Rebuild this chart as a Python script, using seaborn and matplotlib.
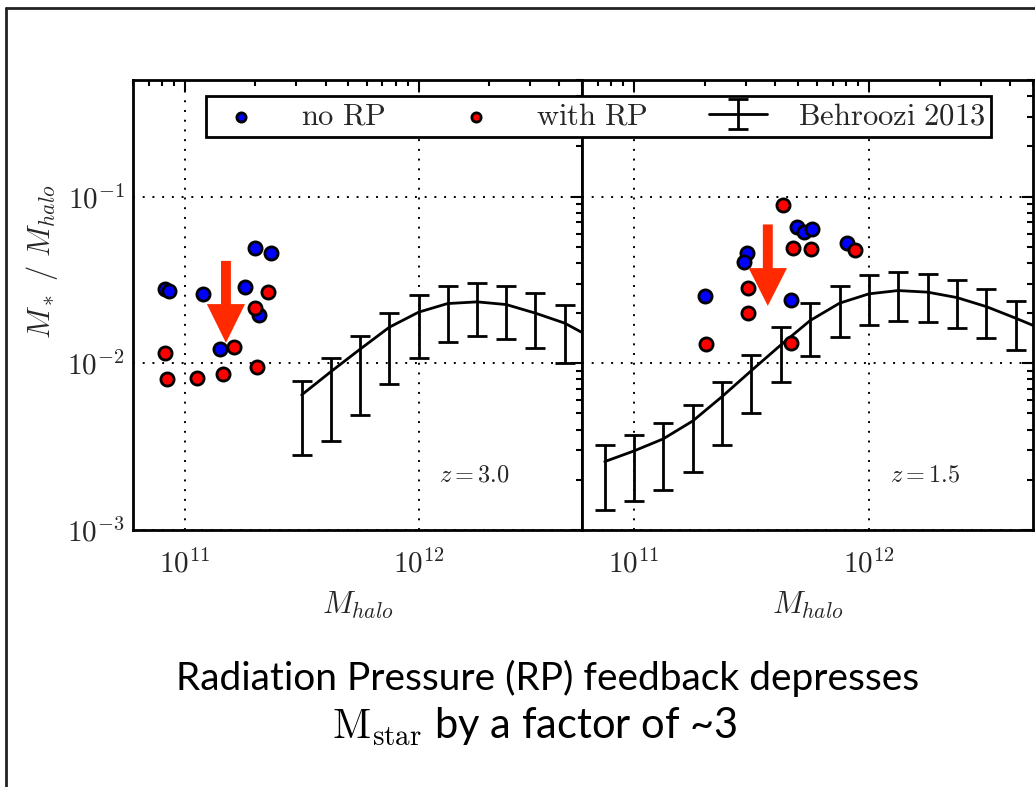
import matplotlib
matplotlib.use("Agg")
import matplotlib.pyplot as plt
import seaborn as sns
import numpy as np
import pandas as pd
from matplotlib.lines import Line2D
from matplotlib.patches import FancyArrow
from matplotlib.ticker import FuncFormatter, LogLocator, NullFormatter

# ---------------- data ----------------
# z = 3.0 panel
z3_norp_mhalo = [8.22e10, 8.55e10, 1.19e11, 1.81e11, 1.99e11, 2.33e11, 2.07e11, 1.41e11]
z3_norp_ratio = [0.0278, 0.0272, 0.0260, 0.0288, 0.0488, 0.0458, 0.0194, 0.01225]
z3_rp_mhalo = [8.2e10, 8.41e10, 1.13e11, 1.456e11, 1.627e11, 2.005e11, 2.26e11, 2.045e11]
z3_rp_ratio = [0.0116, 0.00806, 0.00814, 0.00864, 0.01254, 0.0214, 0.0266, 0.00951]

z3_beh_mhalo = [3.16e11, 4.22e11, 5.62e11, 7.50e11, 1.00e12, 1.33e12, 1.78e12,
                2.37e12, 3.16e12, 4.22e12, 5.62e12]
z3_beh_ratio = [0.00646, 0.00892, 0.01215, 0.01646, 0.02025, 0.02281, 0.02335,
                0.02250, 0.01998, 0.01740, 0.01400]
z3_beh_lo = [0.00282, 0.00344, 0.00492, 0.00749, 0.01073, 0.01349, 0.01460,
             0.01401, 0.01232, 0.01010, 0.00800]
z3_beh_hi = [0.00787, 0.01073, 0.01466, 0.01998, 0.02572, 0.02924, 0.03035,
             0.02924, 0.02633, 0.02250, 0.01850]

# z = 1.5 panel
z15_norp_mhalo = [2.01e11, 3.04e11, 2.93e11, 4.96e11, 5.27e11, 5.70e11, 8.07e11, 4.68e11]
z15_norp_ratio = [0.0254, 0.0461, 0.0407, 0.0655, 0.0612, 0.0643, 0.0525, 0.0238]
z15_rp_mhalo = [4.32e11, 4.77e11, 5.66e11, 8.71e11, 3.06e11, 3.06e11, 2.03e11, 4.66e11]
z15_rp_ratio = [0.0892, 0.0492, 0.0483, 0.0479, 0.0281, 0.0201, 0.0130, 0.0132]

z15_beh_mhalo = [7.50e10, 1.00e11, 1.33e11, 1.78e11, 2.37e11, 3.16e11, 4.22e11, 5.62e11,
                 7.50e11, 1.00e12, 1.33e12, 1.78e12, 2.37e12, 3.16e12, 4.22e12, 5.62e12]
z15_beh_ratio = [0.002572, 0.002981, 0.003519, 0.004513, 0.006313, 0.009042, 0.01289,
                 0.01804, 0.02293, 0.02608, 0.02730, 0.02670, 0.02478, 0.02188,
                 0.01864, 0.01576]
z15_beh_lo = [0.001320, 0.001495, 0.001739, 0.002240, 0.003253, 0.005019, 0.007702,
              0.01112, 0.01446, 0.01692, 0.01804, 0.01772, 0.01624, 0.01414,
              0.01203, 0.01000]
z15_beh_hi = [0.003239, 0.003720, 0.004390, 0.005605, 0.007702, 0.01123, 0.01646,
              0.02293, 0.02924, 0.03391, 0.03535, 0.03439, 0.03150, 0.02794,
              0.02377, 0.02000]

panel_labels = [r"$z=3.0$", r"$z=1.5$"]
legend_labels = [r"$\mathrm{no\ RP}$", r"$\mathrm{with\ RP}$", r"$\mathrm{Behroozi\ 2013}$"]
caption_line1 = "Radiation Pressure (RP) feedback depresses"
caption_line2 = r"$\mathrm{M_{star}}$ by a factor of ~3"

# ---------------- style ----------------
sns.set_theme(style="white")
plt.rcParams["font.family"] = ["DejaVu Sans"]
plt.rcParams["mathtext.fontset"] = "cm"

W, H = 1035, 787
fig = plt.figure(figsize=(W / 100, H / 100), dpi=100)
fig.patch.set_facecolor("white")

def fx(px):
    return px / W

def fy(py):
    return 1 - py / H

ax_l = fig.add_axes([fx(133), fy(530), fx(582) - fx(133), fy(80) - fy(530)])
ax_r = fig.add_axes([fx(582), fy(530), fx(1033) - fx(582), fy(80) - fy(530)], sharey=ax_l)

tick_fmt = FuncFormatter(lambda v, p: r"$10^{%d}$" % int(round(np.log10(v))))

panels = [
    (ax_l, z3_norp_mhalo, z3_norp_ratio, z3_rp_mhalo, z3_rp_ratio,
     z3_beh_mhalo, z3_beh_ratio, z3_beh_lo, z3_beh_hi, panel_labels[0]),
    (ax_r, z15_norp_mhalo, z15_norp_ratio, z15_rp_mhalo, z15_rp_ratio,
     z15_beh_mhalo, z15_beh_ratio, z15_beh_lo, z15_beh_hi, panel_labels[1]),
]

handles = None
for (ax, nx, ny, rx, ry, bx, by, blo, bhi, zlab) in panels:
    ax.set_xscale("log")
    ax.set_yscale("log")
    ax.set_xlim(6e10, 5e12)
    ax.set_ylim(1e-3, 0.5)

    by_a = np.array(by)
    yerr = [by_a - np.array(blo), np.array(bhi) - by_a]
    eb = ax.errorbar(bx, by, yerr=yerr, color="black", lw=2, elinewidth=2,
                     capsize=7, capthick=2, zorder=2)

    sns.scatterplot(x=nx, y=ny, ax=ax, color="#0000ff", edgecolor="black",
                    linewidth=2, s=90, zorder=3, legend=False)
    h_blue = ax.collections[-1]
    sns.scatterplot(x=rx, y=ry, ax=ax, color="#ff0000", edgecolor="black",
                    linewidth=2, s=90, zorder=4, legend=False)
    h_red = ax.collections[-1]
    if handles is None:
        handles = [h_blue, h_red, eb]

    ax.grid(True, which="major", linestyle=(0, (1, 4)), color="black", lw=1.4)
    ax.xaxis.set_major_locator(LogLocator(base=10, numticks=10))
    ax.xaxis.set_minor_locator(LogLocator(base=10, subs=np.arange(2, 10), numticks=20))
    ax.yaxis.set_major_locator(LogLocator(base=10, numticks=10))
    ax.yaxis.set_minor_locator(LogLocator(base=10, subs=np.arange(2, 10), numticks=20))
    ax.xaxis.set_major_formatter(tick_fmt)
    ax.xaxis.set_minor_formatter(NullFormatter())
    ax.yaxis.set_minor_formatter(NullFormatter())
    ax.tick_params(which="both", direction="in", top=True, right=True,
                   color="black", width=1.5, labelsize=21)
    ax.tick_params(axis="x", which="major", pad=14)
    ax.tick_params(axis="y", which="major", pad=6)
    ax.tick_params(which="major", length=8)
    ax.tick_params(which="minor", length=4.5)
    for sp in ax.spines.values():
        sp.set_color("black")
        sp.set_linewidth(2)
    ax.set_xlabel(r"$M_{halo}$", fontsize=22, labelpad=8)
    ax.set_ylabel("")
    ax.text(0.682, 0.124, zlab, transform=ax.transAxes, fontsize=17.5,
            ha="left", va="center")

ax_l.yaxis.set_major_formatter(tick_fmt)
ax_l.set_ylabel(r"$M_*\ /\ M_{halo}$", fontsize=22)
ax_l.yaxis.set_label_coords(-0.163, 0.596)
plt.setp(ax_r.get_yticklabels(), visible=False)

# red arrows
ax_l.add_patch(FancyArrow(0.207, 0.598, 0, -0.182, width=0.022, head_width=0.085,
                          head_length=0.086, length_includes_head=True,
                          transform=ax_l.transAxes, color="#ff2a00", lw=0, zorder=5))
ax_r.add_patch(FancyArrow(0.412, 0.679, 0, -0.181, width=0.022, head_width=0.085,
                          head_length=0.084, length_includes_head=True,
                          transform=ax_r.transAxes, color="#ff2a00", lw=0, zorder=5))

# legend
leg = fig.legend(handles, legend_labels, loc="lower left", ncol=3, mode="expand",
                 bbox_to_anchor=(fx(206), fy(137), fx(991) - fx(206), fy(91) - fy(137)),
                 bbox_transform=fig.transFigure, fontsize=22, frameon=True,
                 fancybox=False, framealpha=1, edgecolor="black", markerscale=0.7,
                 borderaxespad=0, borderpad=0.2, handlelength=1.9, handletextpad=1.0)
leg.get_frame().set_linewidth(2)

# slide border
fig.add_artist(Line2D([fx(6), fx(6)], [0, fy(8)], transform=fig.transFigure,
                      color="#222222", lw=2))
fig.add_artist(Line2D([fx(6), 1], [fy(8), fy(8)], transform=fig.transFigure,
                      color="#222222", lw=2))

# caption
fig.text(fx(548), fy(678), caption_line1, ha="center", va="center",
         fontsize=28, family=["Lato", "DejaVu Sans"], color="black")
fig.text(fx(535), fy(727), caption_line2, ha="center", va="center",
         fontsize=30, family=["Lato", "DejaVu Sans"], color="black")

fig.savefig("out.png", dpi=100, facecolor="white")
